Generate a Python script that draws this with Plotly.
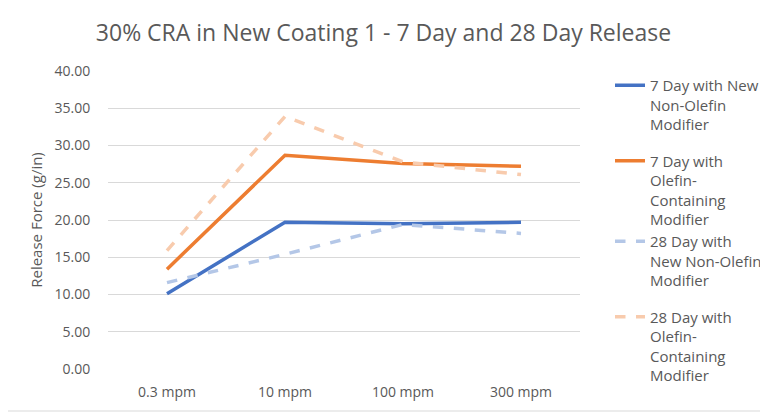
import plotly.graph_objects as go

categories = ["0.3 mpm", "10 mpm", "100 mpm", "300 mpm"]
day7_non_olefin = [10.1, 19.7, 19.5, 19.7]
day7_olefin = [13.4, 28.7, 27.6, 27.2]
day28_non_olefin = [11.6, 15.4, 19.4, 18.2]
day28_olefin = [15.9, 33.9, 27.8, 26.1]

series_names = [
    "7 Day with New<br>Non-Olefin<br>Modifier",
    "7 Day with<br>Olefin-<br>Containing<br>Modifier",
    "28 Day with<br>New Non-Olefin<br>Modifier",
    "28 Day with<br>Olefin-<br>Containing<br>Modifier",
]
series_values = [day7_non_olefin, day7_olefin, day28_non_olefin, day28_olefin]
colors = ["#4472C4", "#ED7D31", "#B4C7E7", "#F8CBAD"]
dashes = ["solid", "solid", "dash", "dash"]
legend_ids = ["legend", "legend", "legend2", "legend2"]

fig = go.Figure()
for i, (name, vals, c, d, lg) in enumerate(zip(series_names, series_values, colors, dashes, legend_ids)):
    fig.add_trace(go.Scatter(
        x=categories, y=vals, name=name, mode="lines", legendgroup=f"g{i}",
        legend=lg, line=dict(color=c, width=3.5, dash=d),
    ))

# page body adds an 8px margin, so the figure is 8px smaller on each axis
W, H = 760, 406
ml, mr, mt, mb = 100, 188, 63, 45
pw, ph = W - ml - mr, H - mt - mb

def px(fx):
    return (fx - ml) / pw

def py(fy):
    return (H - mb - fy) / ph

legend_common = dict(xref="container", xanchor="left", yref="container", yanchor="top",
                     font=dict(size=15, color="#595959"), valign="top",
                     tracegroupgap=14, itemwidth=30, bgcolor="rgba(0,0,0,0)")

fig.update_layout(
    width=W, height=H,
    margin=dict(l=ml, r=mr, t=mt, b=mb, autoexpand=False),
    paper_bgcolor="white", plot_bgcolor="white",
    font=dict(family="Open Sans", color="#595959", size=14),
    title=dict(text="30% CRA in New Coating 1 - 7 Day and 28 Day Release",
               x=375.5 / W, xanchor="center", y=1 - 25 / H, yanchor="middle",
               font=dict(size=23, color="#595959")),
    xaxis=dict(range=[-0.5, 3.5], showgrid=False, showline=False, ticks="",
               tickfont=dict(size=14), ticklabelstandoff=13, automargin=False),
    yaxis=dict(range=[0, 40], dtick=5, tickformat=".2f", showgrid=True,
               gridcolor="#D9D9D9", gridwidth=1, zeroline=False,
               showline=False, ticks="outside", ticklen=14, tickcolor="rgba(0,0,0,0)",
               tickfont=dict(size=14), automargin=False,
               title=dict(text="Release Force (g/in)", font=dict(size=15), standoff=8)),
    legend=dict(x=602 / W, y=1 - 61 / H, **legend_common),
    legend2=dict(x=602 / W, y=1 - 217 / H, **legend_common),
    showlegend=True,
    shapes=[
        dict(type="line", xref="paper", yref="paper",
             x0=px(757), x1=px(757), y0=py(403), y1=py(0),
             line=dict(color="#D9D9D9", width=1)),
        dict(type="line", xref="paper", yref="paper",
             x0=px(0), x1=px(757), y0=py(403), y1=py(403),
             line=dict(color="#D9D9D9", width=1)),
    ],
)

fig.write_html("out.html")
